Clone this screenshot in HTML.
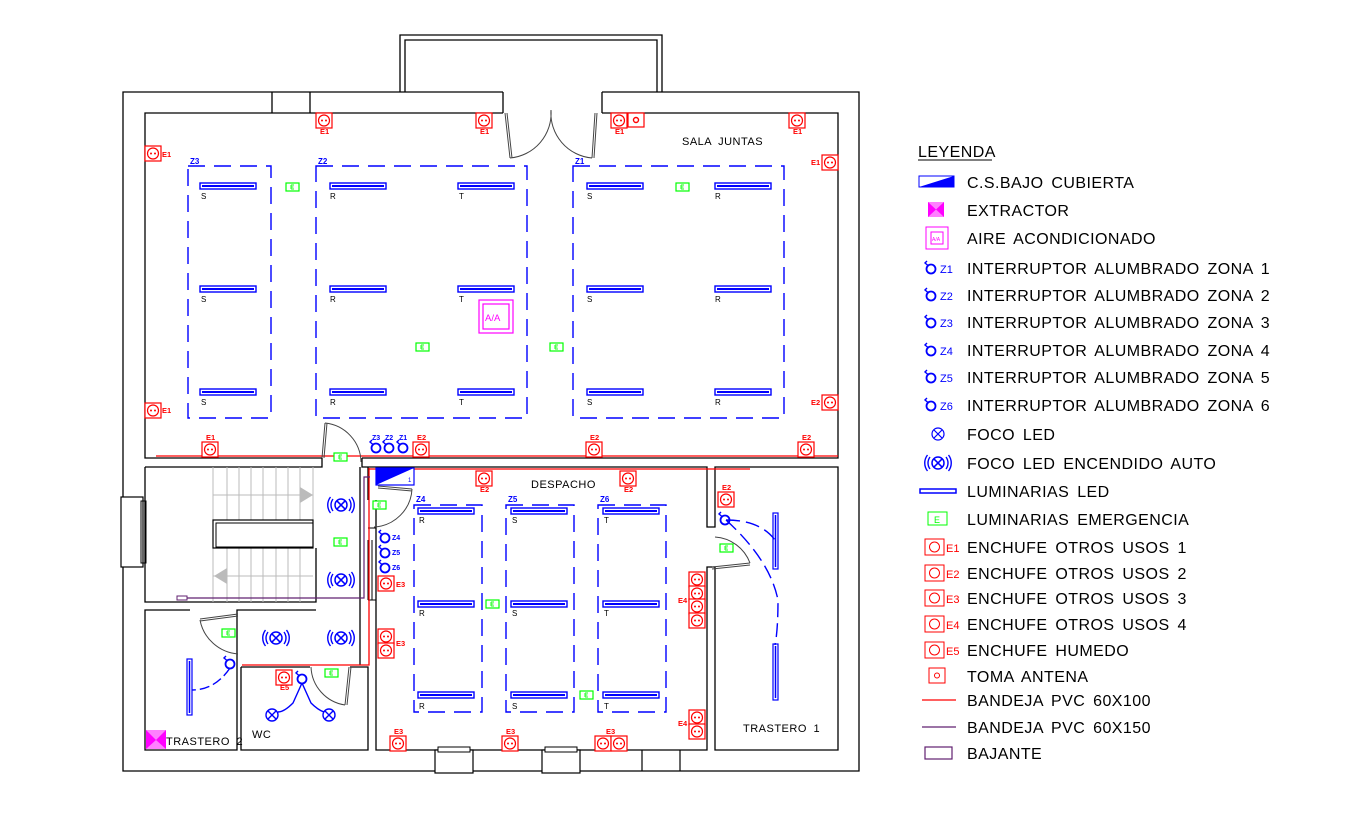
<!DOCTYPE html>
<html><head><meta charset="utf-8"><style>
html,body{margin:0;padding:0;background:#fff;width:1360px;height:824px;overflow:hidden}
svg{display:block}
.t{font-family:"Liberation Sans",sans-serif}
.lg{font-family:"Liberation Sans",sans-serif;font-size:16px;letter-spacing:0.45px;word-spacing:3px;fill:#000}
</style></head><body>
<svg width="1360" height="824" viewBox="0 0 1360 824" xmlns="http://www.w3.org/2000/svg">
<defs>
<g id="sk"><rect x="0" y="0" width="16" height="15" fill="#fff" stroke="#f00" stroke-width="1.2"/><circle cx="8" cy="7.5" r="5.5" fill="none" stroke="#f00" stroke-width="1.2"/><circle cx="6" cy="7.5" r="1" fill="#f00"/><circle cx="10" cy="7.5" r="1" fill="#f00"/></g>
<g id="lu"><rect x="0" y="0" width="56" height="6" fill="#fff" stroke="#00f" stroke-width="1.4"/><line x1="2" y1="3" x2="54" y2="3" stroke="#00f" stroke-width="2"/></g>
<g id="em"><rect x="0" y="0" width="13" height="8" fill="#fff" stroke="#0f0" stroke-width="1.2"/><line x1="5" y1="2" x2="5" y2="6" stroke="#0f0" stroke-width="0.9"/><line x1="5" y1="2" x2="8" y2="2" stroke="#0f0" stroke-width="0.9"/><line x1="5" y1="4" x2="7.5" y2="4" stroke="#0f0" stroke-width="0.9"/><line x1="5" y1="6" x2="8" y2="6" stroke="#0f0" stroke-width="0.9"/></g>
<g id="fa"><circle cx="0" cy="0" r="6" fill="none" stroke="#00f" stroke-width="1.5"/><line x1="-4.2" y1="-4.2" x2="4.2" y2="4.2" stroke="#00f" stroke-width="1.5"/><line x1="-4.2" y1="4.2" x2="4.2" y2="-4.2" stroke="#00f" stroke-width="1.5"/><path d="M-8,-6 A10,10 0 0 0 -8,6 M-10.5,-8 A13,13 0 0 0 -10.5,8 M8,-6 A10,10 0 0 1 8,6 M10.5,-8 A13,13 0 0 1 10.5,8" fill="none" stroke="#00f" stroke-width="1.4"/></g>
<g id="sw"><circle cx="0" cy="0" r="4.5" fill="none" stroke="#00f" stroke-width="1.8"/><path d="M-3,-3.5 L-6,-6 L-4,-8" fill="none" stroke="#00f" stroke-width="1.4"/></g>
</defs>

<path d="M400,92 V35 H662 V92 M405,92 V40 H657 V92" fill="none" stroke="#000" stroke-width="1.3"/>
<path d="M503,92 H123 V771 H859 V92 H602" fill="none" stroke="#000" stroke-width="1.3"/>
<path d="M503,113 H145 V458 H322 M362,458 H838 V113 H602 M503,92 V113 M602,92 V113 M272,92 V113 M310,92 V113" fill="none" stroke="#000" stroke-width="1.3"/>
<path d="M145,467 V602 H316 V548 M316,610 H237 V750 H145 V610 H190" fill="none" stroke="#000" stroke-width="1.3"/>
<path d="M145,467 H322 V458 M362,458 V467 H707 V527 H715 V467 H838 V750 H715 V567 H707 V750 H376 V500 M368,467 V500" fill="none" stroke="#000" stroke-width="1.3"/>
<path d="M241,667 H310 M350,667 H368 V750 H241 V667 M360,467 V665" fill="none" stroke="#000" stroke-width="1.3"/>
<path d="M368,528 H376 M368,600 H376 M368,540 V600 M372,540 V600" fill="none" stroke="#000" stroke-width="1"/>
<rect x="121" y="497" width="22" height="70" fill="#fff" stroke="#000" stroke-width="1.2"/>
<rect x="141" y="501" width="5" height="62" fill="none" stroke="#000"/>
<rect x="435" y="750" width="38" height="23" fill="#fff" stroke="#000" stroke-width="1.2"/>
<rect x="438" y="747" width="32" height="5" fill="#fff" stroke="#000"/>
<rect x="542" y="750" width="38" height="23" fill="#fff" stroke="#000" stroke-width="1.2"/>
<rect x="545" y="747" width="32" height="5" fill="#fff" stroke="#000"/>
<path d="M642,750 V771 M680,750 V771" stroke="#000" stroke-width="1.2"/>

<g stroke="#bbb" stroke-width="1">
<path d="M213,467 V520 M227,467 V520 M239,467 V520 M251,467 V520 M263,467 V520 M276,467 V520 M288,467 V520 M300,467 V520 M313,467 V520 M213,548 V602 M227,548 V602 M239,548 V602 M251,548 V602 M263,548 V602 M276,548 V602 M288,548 V602 M300,548 V602 M213,495 H313 M213,576 H313"/>
</g>
<polygon points="300,487 313,495 300,503" fill="#bbb"/>
<polygon points="227,568 214,576 227,584" fill="#bbb"/>
<rect x="213" y="520" width="100" height="28" fill="none" stroke="#000" stroke-width="1.2"/>
<rect x="216" y="523" width="97" height="24" fill="none" stroke="#000"/>

<path d="M156,456 H838 M369,468 V665 H242 M369,469 H750" stroke="#f00" stroke-width="1.3" fill="none"/>
<path d="M187,598 H364 V477 H370" stroke="#602070" stroke-width="1.2" fill="none"/>
<rect x="177" y="596" width="10" height="4" fill="#fff" stroke="#602070"/>

<g fill="none" stroke="#444" stroke-width="1">
<path d="M505,113 L510,158 M507,113 L512,158 M510,158 A45,45 0 0 0 551,110 A45,45 0 0 0 592,158 M595,113 L592,158 M597,113 L594,158"/>
<path d="M325,423 L322,458 M327,423 L324,458 M325,423 A40,40 0 0 1 361,462"/>
<path d="M378,486 L412,489 M378,488 L412,491 M412,489 A40,40 0 0 1 374,527"/>
<path d="M200,619 L238,614 M200,621 L238,616 M200,620 A42,42 0 0 0 238,654"/>
<path d="M349,667 L345,705 M351,667 L347,705 M345,705 A40,40 0 0 1 311,667"/>
<path d="M715,537 A40,40 0 0 1 750,563 M712,567 L750,563 M712,569 L750,565"/>
</g>

<g fill="none" stroke="#00f" stroke-width="1.4" stroke-dasharray="17,9">
<rect x="188" y="166" width="83" height="252"/>
<rect x="316" y="166" width="211" height="252"/>
<rect x="573" y="166" width="211" height="252"/>
<rect x="414" y="505" width="68" height="207"/>
<rect x="506" y="505" width="68" height="207"/>
<rect x="598" y="505" width="68" height="207"/>
</g>
<g class="t" font-size="8" fill="#00f" font-weight="bold">
<text x="190" y="164">Z3</text><text x="318" y="164">Z2</text><text x="575" y="164">Z1</text>
<text x="416" y="502">Z4</text><text x="508" y="502">Z5</text><text x="600" y="502">Z6</text>
</g>
<g>
<use href="#lu" x="200" y="183"/><use href="#lu" x="330" y="183"/><use href="#lu" x="458" y="183"/><use href="#lu" x="587" y="183"/><use href="#lu" x="715" y="183"/>
<use href="#lu" x="200" y="286"/><use href="#lu" x="330" y="286"/><use href="#lu" x="458" y="286"/><use href="#lu" x="587" y="286"/><use href="#lu" x="715" y="286"/>
<use href="#lu" x="200" y="389"/><use href="#lu" x="330" y="389"/><use href="#lu" x="458" y="389"/><use href="#lu" x="587" y="389"/><use href="#lu" x="715" y="389"/>
<use href="#lu" x="418" y="508"/><use href="#lu" x="511" y="508"/><use href="#lu" x="603" y="508"/>
<use href="#lu" x="418" y="601"/><use href="#lu" x="511" y="601"/><use href="#lu" x="603" y="601"/>
<use href="#lu" x="418" y="692"/><use href="#lu" x="511" y="692"/><use href="#lu" x="603" y="692"/>
</g>
<g class="t" font-size="8" fill="#000">
<text x="201" y="199">S</text><text x="330" y="199">R</text><text x="459" y="199">T</text><text x="587" y="199">S</text><text x="715" y="199">R</text>
<text x="201" y="302">S</text><text x="330" y="302">R</text><text x="459" y="302">T</text><text x="587" y="302">S</text><text x="715" y="302">R</text>
<text x="201" y="405">S</text><text x="330" y="405">R</text><text x="459" y="405">T</text><text x="587" y="405">S</text><text x="715" y="405">R</text>
<text x="419" y="523">R</text><text x="512" y="523">S</text><text x="604" y="523">T</text>
<text x="419" y="616">R</text><text x="512" y="616">S</text><text x="604" y="616">T</text>
<text x="419" y="709">R</text><text x="512" y="709">S</text><text x="604" y="709">T</text>
</g>
<rect x="187" y="659" width="5" height="56" fill="#fff" stroke="#00f" stroke-width="1.2"/><line x1="189.5" y1="661" x2="189.5" y2="713" stroke="#00f" stroke-width="1.5"/>
<rect x="773" y="513" width="5" height="56" fill="#fff" stroke="#00f" stroke-width="1.2"/><line x1="775.5" y1="515" x2="775.5" y2="567" stroke="#00f" stroke-width="1.5"/>
<rect x="773" y="644" width="5" height="56" fill="#fff" stroke="#00f" stroke-width="1.2"/><line x1="775.5" y1="646" x2="775.5" y2="698" stroke="#00f" stroke-width="1.5"/>

<g>
<use href="#em" x="286" y="183"/><use href="#em" x="676" y="183"/><use href="#em" x="416" y="343"/><use href="#em" x="550" y="343"/>
<use href="#em" x="334" y="453"/><use href="#em" x="373" y="501"/><use href="#em" x="334" y="538"/><use href="#em" x="222" y="629"/>
<use href="#em" x="325" y="669"/><use href="#em" x="486" y="600"/><use href="#em" x="580" y="691"/><use href="#em" x="720" y="544"/>
</g>

<g>
<use href="#sk" x="316" y="113"/><use href="#sk" x="476" y="113"/><use href="#sk" x="611" y="113"/><use href="#sk" x="789" y="113"/>
<use href="#sk" x="145" y="146"/><use href="#sk" x="822" y="155"/><use href="#sk" x="145" y="403"/><use href="#sk" x="822" y="395"/>
<use href="#sk" x="202" y="442"/><use href="#sk" x="413" y="442"/><use href="#sk" x="586" y="442"/><use href="#sk" x="798" y="442"/>
<use href="#sk" x="476" y="471"/><use href="#sk" x="620" y="471"/><use href="#sk" x="718" y="492"/>
<use href="#sk" x="378" y="576"/><use href="#sk" x="378" y="629"/><use href="#sk" x="378" y="643"/>
<use href="#sk" x="689" y="572"/><use href="#sk" x="689" y="586"/><use href="#sk" x="689" y="599"/><use href="#sk" x="689" y="613"/>
<use href="#sk" x="689" y="710"/><use href="#sk" x="689" y="724"/>
<use href="#sk" x="390" y="736"/><use href="#sk" x="502" y="736"/><use href="#sk" x="595" y="736"/><use href="#sk" x="611" y="736"/>
<use href="#sk" x="276" y="670"/>
</g>
<rect x="628" y="113" width="16" height="14" fill="#fff" stroke="#f00" stroke-width="1.2"/><circle cx="636" cy="120" r="2.5" fill="none" stroke="#f00" stroke-width="1.4"/>
<g class="t" font-size="7.5" fill="#f00" font-weight="bold">
<text x="320" y="134">E1</text><text x="480" y="134">E1</text><text x="615" y="134">E1</text><text x="793" y="134">E1</text>
<text x="162" y="157">E1</text><text x="811" y="165">E1</text><text x="162" y="413">E1</text><text x="811" y="405">E2</text>
<text x="206" y="440">E1</text><text x="417" y="440">E2</text><text x="590" y="440">E2</text><text x="802" y="440">E2</text>
<text x="480" y="492">E2</text><text x="624" y="492">E2</text><text x="722" y="490">E2</text>
<text x="396" y="587">E3</text><text x="396" y="646">E3</text><text x="678" y="603">E4</text><text x="678" y="726">E4</text>
<text x="394" y="734">E3</text><text x="506" y="734">E3</text><text x="606" y="734">E3</text><text x="280" y="690">E5</text>
</g>

<rect x="376" y="468" width="38" height="17" fill="#fff" stroke="#00f" stroke-width="1.2"/>
<polygon points="376,468 414,468 376,485" fill="#00f"/>
<text x="408" y="482" class="t" font-size="6" fill="#00f">1</text>

<rect x="479" y="300" width="34" height="33" fill="none" stroke="#f0f" stroke-width="1.2"/>
<rect x="483" y="304" width="26" height="25" fill="none" stroke="#f0f" stroke-width="1.2"/>
<text x="485" y="321" class="t" font-size="9.5" fill="#f0f">A/A</text>

<use href="#fa" x="341" y="505"/><use href="#fa" x="341" y="580"/><use href="#fa" x="276" y="638"/><use href="#fa" x="341" y="638"/>
<g stroke="#00f" stroke-width="1.4" fill="none">
<circle cx="272" cy="715" r="6"/><path d="M268,711 L276,719 M268,719 L276,711"/>
<circle cx="329" cy="715" r="6"/><path d="M325,711 L333,719 M325,719 L333,711"/>
<path d="M302,683 L293,703 Q284,712 278,712 M302,683 L311,703 Q318,710 324,712"/>
<path d="M230,668 Q215,690 192,690" stroke-dasharray="10,4"/>
<path d="M726,520 Q760,520 775,540 M726,520 Q770,560 778,600 Q778,630 775,645" stroke-dasharray="14,6"/>
</g>
<use href="#sw" x="376" y="448"/><use href="#sw" x="389" y="448"/><use href="#sw" x="403" y="448"/>
<use href="#sw" x="385" y="538"/><use href="#sw" x="385" y="553"/><use href="#sw" x="385" y="568"/>
<use href="#sw" x="230" y="664"/><use href="#sw" x="302" y="679"/><use href="#sw" x="725" y="520"/>
<g class="t" font-size="7" fill="#00f" font-weight="bold">
<text x="372" y="440">Z3</text><text x="385" y="440">Z2</text><text x="399" y="440">Z1</text>
<text x="392" y="540">Z4</text><text x="392" y="555">Z5</text><text x="392" y="570">Z6</text>
</g>

<rect x="146" y="730" width="20" height="19" fill="#f0f"/>
<polygon points="146,730 166,730 156,740" fill="#fff" opacity="0.5"/>
<polygon points="146,749 166,749 156,740" fill="#fff" opacity="0.5"/>

<g class="t" font-size="11" fill="#000" letter-spacing="0.5" word-spacing="3">
<text x="682" y="145">SALA JUNTAS</text>
<text x="531" y="488">DESPACHO</text>
<text x="166" y="745">TRASTERO 2</text>
<text x="252" y="738">WC</text>
<text x="743" y="732">TRASTERO 1</text>
</g>

<text x="918" y="157" class="lg" letter-spacing="0.3">LEYENDA</text>
<line x1="918" y1="160" x2="992" y2="160" stroke="#000"/>
<rect x="919" y="176" width="35" height="11" fill="#fff" stroke="#00f"/><polygon points="919,187 954,176 954,187" fill="#00f"/>
<rect x="928" y="202" width="16" height="15" fill="#f0f"/><polygon points="928,202 944,202 936,209.5" fill="#fff" opacity=".5"/><polygon points="928,217 944,217 936,209.5" fill="#fff" opacity=".5"/>
<rect x="926" y="227" width="22" height="22" fill="none" stroke="#f0f"/><rect x="931" y="232" width="12" height="12" fill="none" stroke="#f0f"/>
<text x="932" y="241" class="t" font-size="5" fill="#f0f">A/A</text>
<g class="t" font-size="11" fill="#00f">
<use href="#sw" x="931" y="269"/><text x="940" y="273">Z1</text>
<use href="#sw" x="931" y="296"/><text x="940" y="300">Z2</text>
<use href="#sw" x="931" y="323"/><text x="940" y="327">Z3</text>
<use href="#sw" x="931" y="351"/><text x="940" y="355">Z4</text>
<use href="#sw" x="931" y="378"/><text x="940" y="382">Z5</text>
<use href="#sw" x="931" y="406"/><text x="940" y="410">Z6</text>
</g>
<g stroke="#00f" stroke-width="1.2" fill="none"><circle cx="938" cy="434" r="6"/><path d="M934,430 L942,438 M934,438 L942,430"/></g>
<use href="#fa" x="938" y="463"/>
<rect x="920" y="489" width="36" height="4" fill="#fff" stroke="#00f" stroke-width="1.5"/>
<rect x="928" y="512" width="19" height="13" fill="#fff" stroke="#0f0"/><text x="934" y="523" class="t" font-size="9" fill="#0f0">E</text>
<g class="t" font-size="11" fill="#f00">
<rect x="925" y="539" width="19" height="16" fill="#fff" stroke="#f00"/><circle cx="934.5" cy="547" r="5" fill="none" stroke="#f00"/><text x="946" y="552">E1</text>
<rect x="925" y="565" width="19" height="16" fill="#fff" stroke="#f00"/><circle cx="934.5" cy="573" r="5" fill="none" stroke="#f00"/><text x="946" y="578">E2</text>
<rect x="925" y="590" width="19" height="16" fill="#fff" stroke="#f00"/><circle cx="934.5" cy="598" r="5" fill="none" stroke="#f00"/><text x="946" y="603">E3</text>
<rect x="925" y="616" width="19" height="16" fill="#fff" stroke="#f00"/><circle cx="934.5" cy="624" r="5" fill="none" stroke="#f00"/><text x="946" y="629">E4</text>
<rect x="925" y="642" width="19" height="16" fill="#fff" stroke="#f00"/><circle cx="934.5" cy="650" r="5" fill="none" stroke="#f00"/><text x="946" y="655">E5</text>
</g>
<rect x="929" y="668" width="16" height="15" fill="#fff" stroke="#f00"/><circle cx="937" cy="675.5" r="2.5" fill="none" stroke="#f00"/>
<line x1="922" y1="700" x2="956" y2="700" stroke="#f00" stroke-width="1.2"/>
<line x1="922" y1="727" x2="956" y2="727" stroke="#602070" stroke-width="1.2"/>
<rect x="925" y="747" width="27" height="12" fill="#fff" stroke="#602070" stroke-width="1.2"/>
<g class="lg">
<text x="967" y="188">C.S.BAJO CUBIERTA</text>
<text x="967" y="216">EXTRACTOR</text>
<text x="967" y="244">AIRE ACONDICIONADO</text>
<text x="967" y="274">INTERRUPTOR ALUMBRADO ZONA 1</text>
<text x="967" y="301">INTERRUPTOR ALUMBRADO ZONA 2</text>
<text x="967" y="328">INTERRUPTOR ALUMBRADO ZONA 3</text>
<text x="967" y="356">INTERRUPTOR ALUMBRADO ZONA 4</text>
<text x="967" y="383">INTERRUPTOR ALUMBRADO ZONA 5</text>
<text x="967" y="411">INTERRUPTOR ALUMBRADO ZONA 6</text>
<text x="967" y="440">FOCO LED</text>
<text x="967" y="469">FOCO LED ENCENDIDO AUTO</text>
<text x="967" y="497">LUMINARIAS LED</text>
<text x="967" y="525">LUMINARIAS EMERGENCIA</text>
<text x="967" y="553">ENCHUFE OTROS USOS 1</text>
<text x="967" y="579">ENCHUFE OTROS USOS 2</text>
<text x="967" y="604">ENCHUFE OTROS USOS 3</text>
<text x="967" y="630">ENCHUFE OTROS USOS 4</text>
<text x="967" y="656">ENCHUFE HUMEDO</text>
<text x="967" y="682">TOMA ANTENA</text>
<text x="967" y="706">BANDEJA PVC 60X100</text>
<text x="967" y="733">BANDEJA PVC 60X150</text>
<text x="967" y="759">BAJANTE</text>
</g>
</svg>
</body></html>
